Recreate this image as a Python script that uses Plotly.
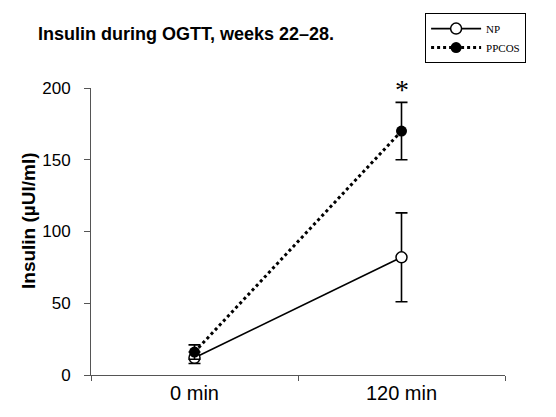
import plotly.graph_objects as go

times = ["0 min", "120 min"]
np_mean = [12, 82]
np_err = [4, 31]
ppcos_mean = [16, 170]
ppcos_err = [5, 20]
y_ticks = [0, 50, 100, 150, 200]

fig = go.Figure()
fig.add_trace(go.Scatter(
    x=times, y=np_mean, name="NP", mode="lines+markers",
    line=dict(color="black", width=1.6),
    marker=dict(symbol="circle", size=11, color="white", line=dict(color="black", width=1.5)),
    error_y=dict(type="data", array=np_err, visible=True, color="black", thickness=1.6, width=6),
))
fig.add_trace(go.Scatter(
    x=times, y=ppcos_mean, name="PPCOS", mode="lines+markers",
    line=dict(color="black", width=3, dash="dot"),
    marker=dict(symbol="circle", size=11, color="black"),
    error_y=dict(type="data", array=ppcos_err, visible=True, color="black", thickness=1.6, width=6),
))

fig.add_annotation(x=times[1], y=199, text="*", showarrow=False, yanchor="middle",
                   font=dict(family="Liberation Serif", size=28, color="black"))
fig.add_annotation(xref="paper", yref="paper", x=(28 - 91) / 414, y=(375 - 220) / 287,
                   text="<b>Insulin (\u00b5UI/ml)</b>", textangle=-90, showarrow=False,
                   xanchor="center", yanchor="middle",
                   font=dict(family="Liberation Sans", size=19, color="black"))

fig.update_layout(
    width=556, height=417,
    margin=dict(l=91, r=51, t=88, b=42),
    paper_bgcolor="white", plot_bgcolor="white",
    title=dict(text="<b>Insulin during OGTT, weeks 22\u201328.</b>", x=38/556, xanchor="left",
               y=1 - 34/417, yanchor="middle",
               font=dict(family="Liberation Sans", size=18, color="black")),
    showlegend=True,
    legend=dict(x=0.807, y=1.261, xanchor="left", yanchor="top",
                bordercolor="black", borderwidth=1, bgcolor="white", itemwidth=50,
                font=dict(family="Liberation Serif", size=11, color="black")),
    font=dict(family="Liberation Sans", color="black"),
)
fig.update_xaxes(type="category", range=[-0.5, 1.5], showgrid=False, showline=True, automargin=False,
                 linecolor="#555", linewidth=1, ticks="outside", tickson="boundaries",
                 ticklen=5, tickcolor="#555", tickfont=dict(size=20, color="black"))
fig.update_yaxes(range=[0, 200], tickvals=y_ticks, showgrid=False, zeroline=False, showline=True,
                 automargin=False,
                 linecolor="#555", linewidth=1, ticks="outside", ticklen=6, tickcolor="#555",
                 ticklabelstandoff=10,
                 tickfont=dict(size=17, color="black"))

fig.write_html("out.html", config={"displayModeBar": False},
               post_script="document.body.style.margin='0';")
